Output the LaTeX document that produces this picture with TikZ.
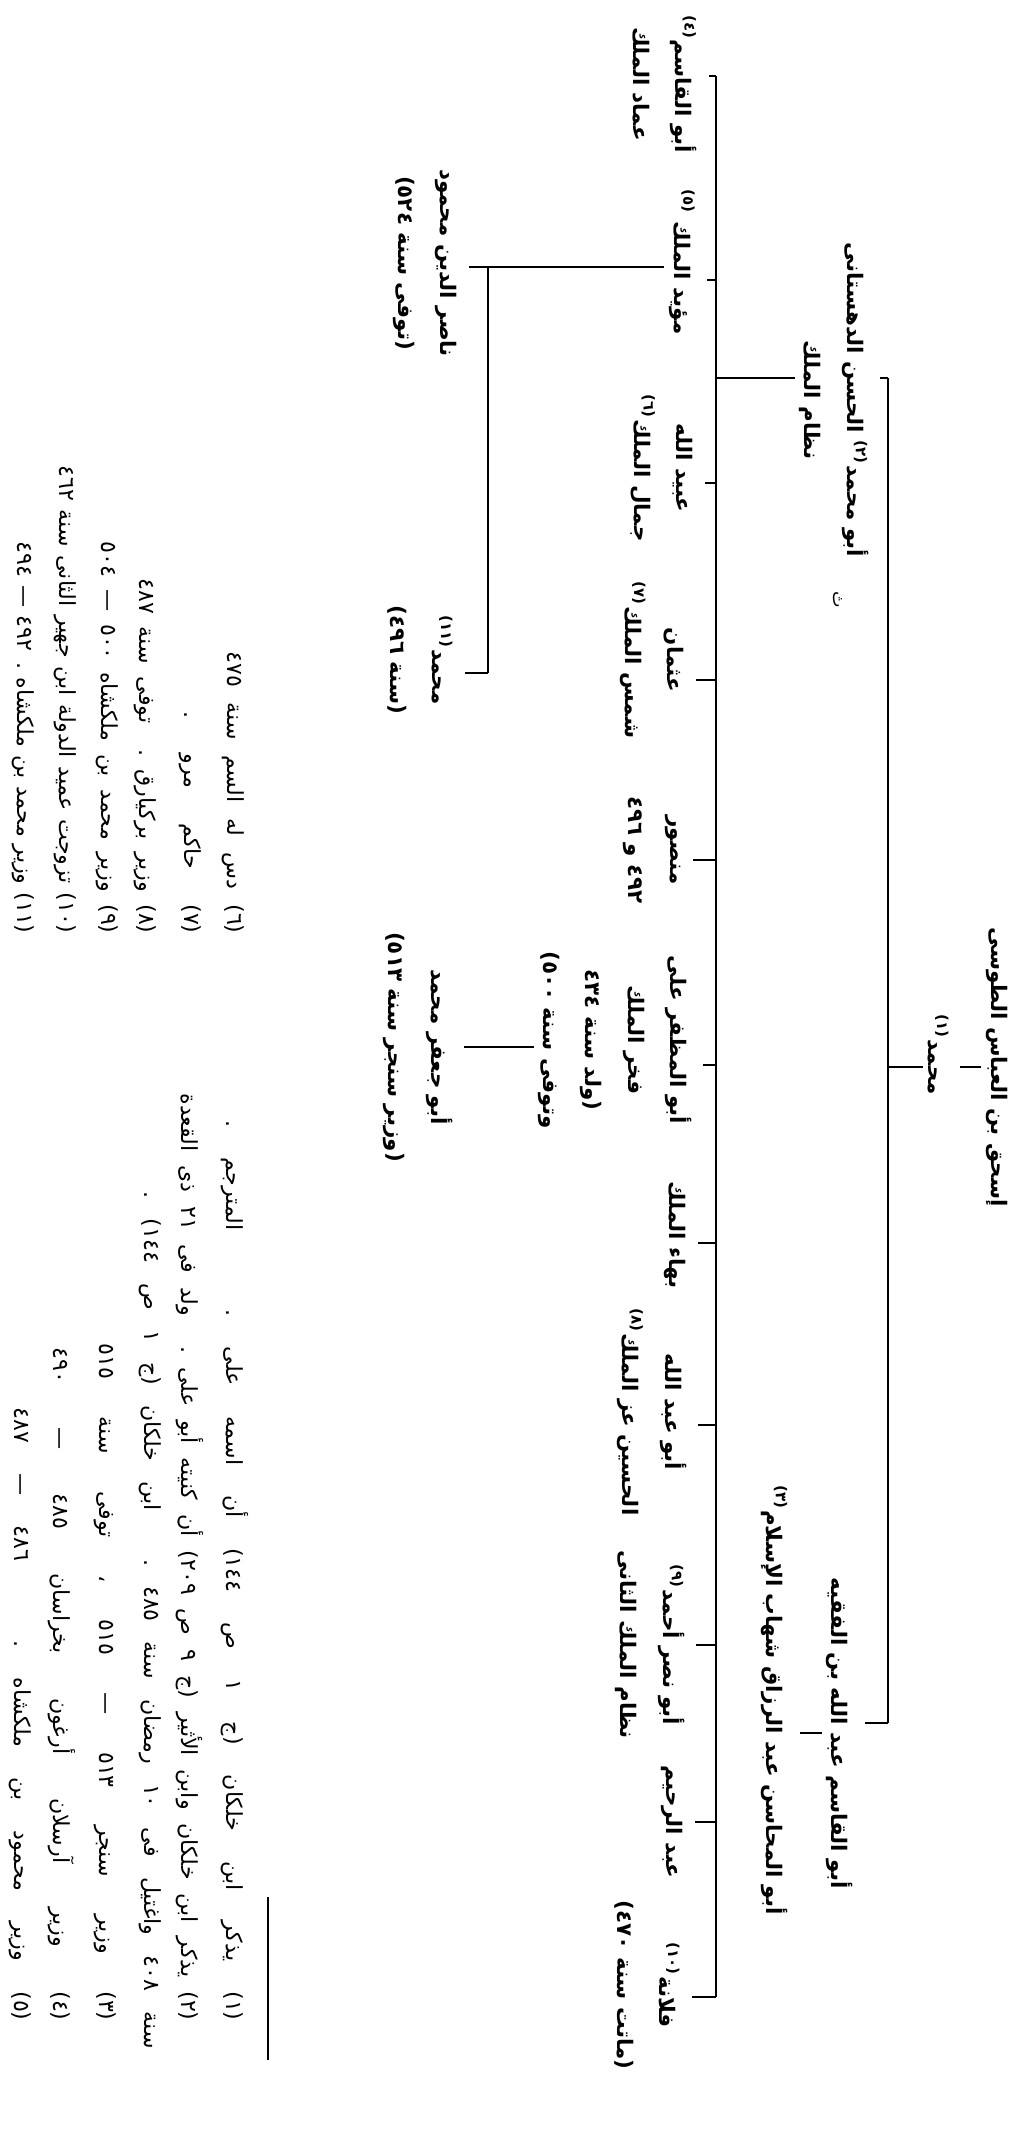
\documentclass[tikz,border=0pt]{standalone}
\usepackage{fontspec}
\newfontfamily\arabicfont[Script=Arabic]{DejaVu Sans}
\TeXXeTstate=1
\newcommand{\artxt}[1]{\beginR #1\endR}
\newcommand{\fnum}[1]{\textsuperscript{#1}}

\begin{document}
\begin{tikzpicture}[
x=0.1mm, y=-0.1mm,
line width=0.8pt,
person/.style={rotate=-90, align=center, inner sep=1pt, font=\arabicfont\bfseries\fontsize{6.1}{12}\selectfont},
fnote/.style={rotate=-90, anchor=east, inner sep=0pt, font=\arabicfont\fontsize{6.3}{7}\selectfont},
tick/.style={shorten >=2pt}
]
\fill[white] (0,0) rectangle (1029,2139);
\useasboundingbox (0,0) rectangle (1029,2139);

% root and his son
\node[person] (ishaq) at (997,1067) {\artxt{إسحق بن العباس الطوسى}};
\node[person] (muh1) at (938,1055) {\artxt{محمد\fnum{(١)}}};
\draw[tick] (ishaq.south) -- (ishaq.south -| muh1.north);

% first bus
\coordinate (b1top) at (888,378);
\coordinate (b1bot) at (888,1723);
\draw (b1top) -- (b1bot);
\draw (muh1.south |- ishaq) -- (ishaq -| b1top);

\node[person] (nizam) at (834,400) {\artxt{أبو محمد\fnum{(٢)} الحسن الدهستانى}\\\artxt{نظام الملك}};
\node[person, font=\arabicfont\fontsize{5}{6}\selectfont] (mark) at (838,600) {\artxt{ث}};
\node[person] (fakih) at (840,1733) {\artxt{أبو القاسم عبد الله بن الفقيه}};
\node[person] (razzaq) at (775,1700) {\artxt{أبو المحاسن عبد الرزاق شهاب الإسلام\fnum{(٣)}}};
\draw[tick] (b1top) -- (b1top -| nizam.north);
\draw[tick] (b1bot) -- (b1bot -| fakih.north);
\draw[tick] (fakih.south) -- (fakih.south -| razzaq.north);

% sons of nizam al-mulk
\coordinate (b2top) at (716,76);
\coordinate (b2bot) at (716,1997);
\draw (b2top) -- (b2bot);
\draw (nizam.south |- b1top) -- (b1top -| b2top);

\node[person] (emad) at (665,84) {\artxt{أبو القاسم\fnum{(٤)}}\\\artxt{عماد الملك}};
\node[person] (muayyad) at (682,262) {\artxt{مؤيد الملك \fnum{(٥)}}};
\node[person] (ubaid) at (662,468) {\artxt{عبيد الله}\\\artxt{جمال الملك\fnum{(٦)}}};
\node[person] (uthman) at (652,660) {\artxt{عثمان}\\\artxt{شمس الملك\fnum{(٧)}}};
\node[person] (mansur) at (652,850) {\artxt{منصور}\\\artxt{٤٩٢ و ٤٩٦}};
\node[person] (fakhr) at (615,1040) {\artxt{أبو المظفر على}\\\artxt{فخر الملك}\\\artxt{(ولد سنة ٤٣٤}\\\artxt{وتوفى سنة ٥٠٠)}};
\node[person] (bahaa) at (675,1235) {\artxt{بهاء الملك}};
\node[person] (izz) at (652,1412) {\artxt{أبو عبد الله}\\\artxt{الحسين عز الملك\fnum{(٨)}}};
\node[person] (ahmad) at (650,1645) {\artxt{أبو نصر أحمد\fnum{(٩)}}\\\artxt{نظام الملك الثانى}};
\node[person] (rahim) at (672,1822) {\artxt{عبد الرحيم}};
\node[person] (fulana) at (647,1985) {\artxt{فلانة\fnum{(١٠)}}\\\artxt{(ماتت سنة ٤٧٠)}};

\foreach \n/\y in {emad/76, muayyad/280, ubaid/483, uthman/680, mansur/860,
  fakhr/1065, bahaa/1243, izz/1425, ahmad/1645, rahim/1822, fulana/1997}{
  \coordinate (k\n) at (716,\y);
  \draw[tick] (k\n) -- (k\n -| \n.north);
}

% grandsons
\coordinate (b3top) at (488,267);
\coordinate (b3bot) at (488,673);
\node[person] (nasir) at (425,263) {\artxt{ناصر الدين محمود}\\\artxt{(توفى سنة ٥٢٤)}};
\node[person] (muh11) at (420,660) {\artxt{محمد\fnum{(١١)}}\\\artxt{(سنة ٤٩٦)}};
\node[person] (jafar) at (418,1047) {\artxt{أبو جعفر محمد}\\\artxt{(وزير سنجر سنة ٥١٣)}};
\draw (muayyad.south |- b3top) -- (b3top) -- (b3bot);
\draw[tick] (b3top) -- (b3top -| nasir.north);
\draw[tick] (b3bot) -- (b3bot -| muh11.north);
\draw[tick] (fakhr.south |- jafar) -- (jafar.north);

% footnotes
\draw (268,1897) -- (268,2060);
\node[fnote] (f1) at (235,2022) {\hbox to 90mm{\beginR (١) يذكر ابن خلكان (ج ١ ص ١٤٤) أن اسمه على . المترجم .\endR}};
\node[fnote] (f2) at (190,2022) {\hbox to 92.7mm{\beginR (٢) يذكر ابن خلكان وابن الأثير (ج ٩ ص ٢٠٩) أن كنيته أبو على . ولد فى ٢١ ذى القعدة\endR}};
\node[fnote] (f2b) at (150,2050) {\hbox to 85.7mm{\beginR سنة ٤٠٨ واغتيل فى ١٠ رمضان سنة ٤٨٥ . ابن خلكان (ج ١ ص ١٤٤) .\endR}};
\node[fnote] (f3) at (105,2022) {\hbox to 67.7mm{\beginR (٣) وزير سنجر ٥١٣ — ٥١٥ ، توفى سنة ٥١٥\endR}};
\node[fnote] (f4) at (62,2022) {\hbox to 67.3mm{\beginR (٤) وزير آرسلان أرغون بخراسان ٤٨٥ — ٤٩٠\endR}};
\node[fnote] (f5) at (20,2022) {\hbox to 61.3mm{\beginR (٥) وزير محمود بن ملكشاه . ٤٨٦ — ٤٨٧\endR}};

\node[fnote] (f6) at (233,935) {\hbox to 28.2mm{\beginR (٦) دس له السم سنة ٤٧٥\endR}};
\node[fnote] (f7) at (190,935) {\hbox to 22.2mm{\beginR (٧) حاكم مرو .\endR}};
\node[fnote] (f8) at (145,935) {\hbox to 35.5mm{\beginR (٨) وزير بركيارق . توفى سنة ٤٨٧\endR}};
\node[fnote] (f9) at (107,935) {\hbox to 39.2mm{\beginR (٩) وزير محمد بن ملكشاه ٥٠٠ — ٥٠٤\endR}};
\node[fnote] (f10) at (65,935) {\hbox to 46.8mm{\beginR (١٠) تزوجت عميد الدولة ابن جهير الثانى سنة ٤٦٢\endR}};
\node[fnote] (f11) at (23,935) {\hbox to 39.2mm{\beginR (١١) وزير محمد بن ملكشاه . ٤٩٢ — ٤٩٤\endR}};
\end{tikzpicture}
\end{document}
